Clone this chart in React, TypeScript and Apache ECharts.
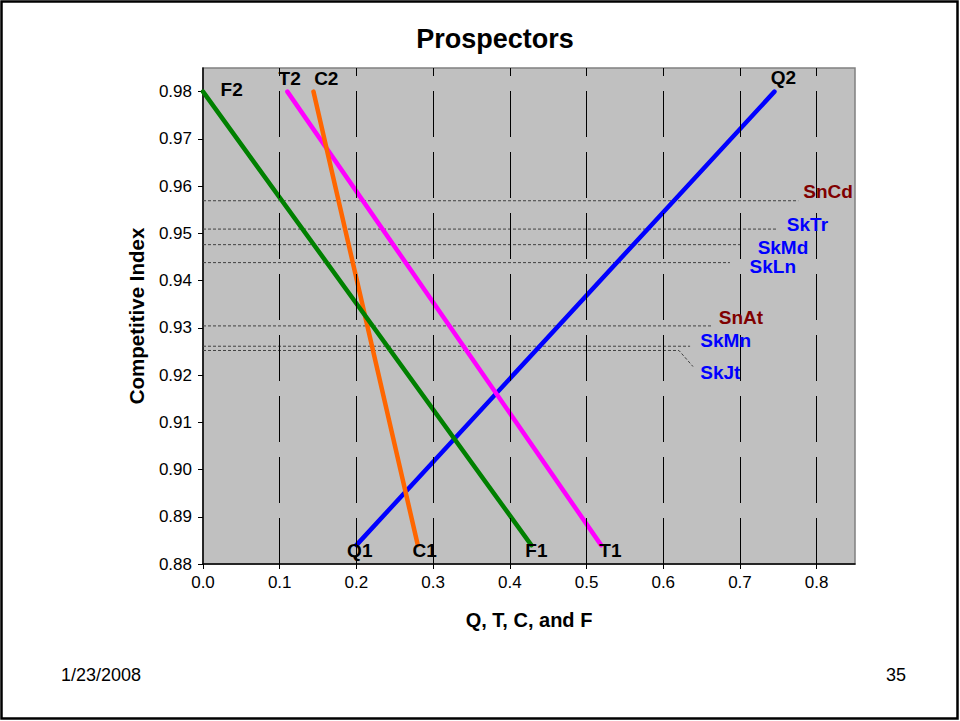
import React, { useEffect, useRef } from "react";
import * as echarts from "echarts";

const FONT = '"Liberation Sans", Arial, Helvetica, sans-serif';

// Axis ticks
const xTicks = [0, 0.1, 0.2, 0.3, 0.4, 0.5, 0.6, 0.7, 0.8];
const yTicks = [0.88, 0.89, 0.9, 0.91, 0.92, 0.93, 0.94, 0.95, 0.96, 0.97, 0.98];
const gridXValues = [0.1, 0.2, 0.3, 0.4, 0.5, 0.6, 0.7, 0.8];

// Main lines (x, competitive index)
const qLine = [[0.2, 0.884], [0.745, 0.98]];
const tLine = [[0.11, 0.98], [0.519, 0.884]];
const cLine = [[0.144, 0.98], [0.28, 0.884]];
const fLine = [[0, 0.98], [0.428, 0.884]];

// End-point labels
const endLabels = ["Q1", "Q2", "T1", "T2", "C1", "C2", "F1", "F2"];
const endLabelAt = [
  [0.2044, 0.8828], [0.7567, 0.983],
  [0.5311, 0.8828], [0.113, 0.9828],
  [0.289, 0.8828], [0.1607, 0.9828],
  [0.4346, 0.8828], [0.0374, 0.9805],
];

// Reference levels
const refNames = ["SnCd", "SkTr", "SkMd", "SkLn", "SnAt", "SkMn", "SkJt"];
const refValues = [0.9569, 0.9509, 0.9476, 0.9438, 0.9304, 0.9261, 0.9252];
const refEnds = [0.776, 0.747, 0.704, 0.687, 0.6635, 0.635, 0.6205];
const refLabelAt = [
  [0.8148, 0.9589], [0.788, 0.9519], [0.7561, 0.9469], [0.7428, 0.943],
  [0.7013, 0.9322], [0.6814, 0.9273], [0.6744, 0.9206],
];
const skJtLeader = [0.6388, 0.9218];

const refColor = (n: string) => (n.startsWith("Sn") ? "#800000" : "#0000ff");

export default function App() {
  const ref = useRef<HTMLDivElement>(null);
  useEffect(() => {
    if (!ref.current) return;
    const chart = echarts.init(ref.current, null, { renderer: "svg" });

    const refSeries = refNames.map((n, i) => {
      const data: number[][] = [[0, refValues[i]], [refEnds[i], refValues[i]]];
      if (n === "SkJt") data.push(skJtLeader);
      return {
        type: "line",
        name: n,
        data,
        symbol: "none",
        silent: true,
        lineStyle: { color: "#404040", width: 1, type: [3, 2] },
        z: 2,
      };
    });

    const mainLines = [
      { name: "Q", data: qLine, color: "#0000ff" },
      { name: "T", data: tLine, color: "#ff00ff" },
      { name: "C", data: cLine, color: "#ff6600" },
      { name: "F", data: fLine, color: "#008000" },
    ].map((l) => ({
      type: "line",
      name: l.name,
      data: l.data,
      symbol: "none",
      silent: true,
      lineStyle: { color: l.color, width: 4.5, cap: "round" },
      z: 4,
    }));

    const labelBase = {
      show: true,
      position: [0, 0],
      align: "center",
      verticalAlign: "middle",
      formatter: (p: any) => p.name,
      fontFamily: FONT,
      fontSize: 19,
      lineHeight: 15,
      fontWeight: "bold",
      opacity: 1,
      textBorderWidth: 0,
      textBorderColor: "transparent",
      textShadowBlur: 0,
    };

    const option: any = {
      animation: false,
      backgroundColor: "#ffffff",
      title: {
        text: "Prospectors",
        left: 490,
        top: 20,
        textAlign: "center",
        textStyle: { fontFamily: FONT, fontSize: 27, fontWeight: "bold", color: "#000" },
      },
      grid: {
        left: 203,
        top: 68,
        width: 652,
        height: 496,
        show: true,
        backgroundColor: "#c0c0c0",
        borderColor: "#808080",
        borderWidth: 1.5,
      },
      xAxis: {
        type: "value",
        min: 0,
        max: 0.85,
        interval: 0.1,
        name: "Q, T, C, and F",
        nameLocation: "middle",
        nameGap: 46,
        nameTextStyle: { fontFamily: FONT, fontSize: 20, fontWeight: "bold", color: "#000" },
        axisLine: { show: true, lineStyle: { color: "#000", width: 1.5 } },
        axisTick: { show: true, length: 5, lineStyle: { color: "#000" }, customValues: xTicks },
        axisLabel: {
          customValues: xTicks,
          formatter: (v: number) => v.toFixed(1),
          fontFamily: FONT,
          fontSize: 17,
          color: "#000",
          margin: 10,
        },
        splitLine: { show: false },
      },
      yAxis: {
        type: "value",
        min: 0.88,
        max: 0.985,
        interval: 0.01,
        name: "Competitive Index",
        nameLocation: "middle",
        nameGap: 56,
        nameTextStyle: { fontFamily: FONT, fontSize: 20.5, fontWeight: "bold", color: "#000" },
        axisLine: { show: true, lineStyle: { color: "#000", width: 1.5 } },
        axisTick: { show: true, length: 5, lineStyle: { color: "#000" }, customValues: yTicks },
        axisLabel: {
          customValues: yTicks,
          formatter: (v: number) => v.toFixed(2),
          fontFamily: FONT,
          fontSize: 17,
          color: "#000",
          margin: 11,
        },
        splitLine: { show: false },
      },
      series: [
        {
          type: "line",
          name: "grid",
          data: [],
          silent: true,
          markLine: {
            silent: true,
            symbol: ["none", "none"],
            label: { show: false },
            lineStyle: { color: "#000", width: 1, type: [46, 15] },
            data: gridXValues.map((x) => [
              { coord: [x, 0.88] },
              { coord: [x, 0.985] },
            ]),
          },
          z: 1,
        },
        ...refSeries,
        ...mainLines,
        {
          type: "scatter",
          name: "endLabels",
          symbolSize: 0,
          silent: true,
          z: 6,
          itemStyle: { opacity: 1 },
          label: { ...labelBase, color: "#000" },
          data: endLabels.map((n, i) => ({ name: n, value: endLabelAt[i] })),
        },
        {
          type: "scatter",
          name: "refLabels",
          symbolSize: 0,
          silent: true,
          z: 6,
          itemStyle: { opacity: 1 },
          label: { ...labelBase },
          data: refNames.map((n, i) => ({
            name: n,
            value: refLabelAt[i],
            label: { color: refColor(n) },
          })),
        },
      ],
      graphic: [
        {
          type: "rect",
          shape: { x: 1.5, y: 1.5, width: 956, height: 717 },
          style: { fill: "none", stroke: "#000", lineWidth: 2.5 },
          silent: true,
        },
        {
          type: "text",
          x: 61,
          y: 675,
          style: {
            text: "1/23/2008",
            fontFamily: FONT,
            fontSize: 18,
            fill: "#000",
            textAlign: "left",
            textVerticalAlign: "middle",
          },
        },
        {
          type: "text",
          x: 906,
          y: 675,
          style: {
            text: "35",
            fontFamily: FONT,
            fontSize: 18,
            fill: "#000",
            textAlign: "right",
            textVerticalAlign: "middle",
          },
        },
      ],
    };

    chart.setOption(option);
    return () => chart.dispose();
  }, []);

  return (
    <div
      ref={ref}
      style={{ position: "absolute", left: 0, top: 0, width: 960, height: 721, background: "#fff" }}
    />
  );
}
